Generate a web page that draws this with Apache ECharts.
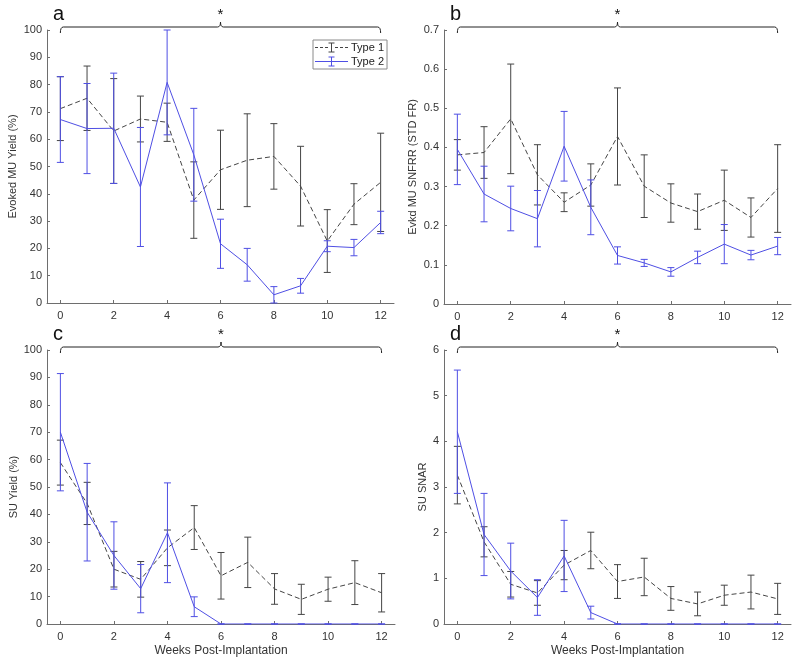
<!DOCTYPE html>
<html>
<head>
<meta charset="utf-8">
<script src="https://cdn.jsdelivr.net/npm/echarts@6.0.0/dist/echarts.min.js"></script>
<style>
html,body{margin:0;padding:0;background:#fff;}
#chart{width:800px;height:666px;}
</style>
</head>
<body>
<div id="chart"></div>
<script>
// ---------- data ----------
const weeks = [0, 1, 2, 3, 4, 5, 6, 7, 8, 9, 10, 11, 12];
const xTickLabels = [0, 2, 4, 6, 8, 10, 12];

// panel a: Evoked MU Yield (%)
const aType1 = [71.2, 75.0, 63.0, 67.4, 66.2, 37.7, 48.8, 52.3, 53.7, 42.8, 22.7, 36.2, 44.2];
const aType1Err = [11.7, 11.8, 19.2, 8.4, 7.0, 14.0, 14.5, 17.0, 12.0, 14.6, 11.5, 7.5, 18.0];
const aType2 = [67.2, 63.9, 64.0, 42.5, 80.8, 54.3, 21.7, 14.0, 3.0, 6.3, 20.8, 20.3, 29.5];
const aType2Err = [15.7, 16.5, 20.2, 21.8, 19.2, 17.0, 9.0, 6.0, 3.0, 2.7, 2.0, 3.0, 4.1];

// panel b: Evkd MU SNFRR (STD FR)
const bType1 = [0.381, 0.387, 0.473, 0.330, 0.260, 0.304, 0.428, 0.301, 0.258, 0.236, 0.265, 0.221, 0.295];
const bType1Err = [0.039, 0.066, 0.140, 0.077, 0.024, 0.054, 0.124, 0.080, 0.049, 0.045, 0.077, 0.050, 0.112];
const bType2 = [0.395, 0.281, 0.244, 0.218, 0.403, 0.247, 0.124, 0.105, 0.082, 0.119, 0.153, 0.125, 0.148];
const bType2Err = [0.090, 0.071, 0.057, 0.072, 0.089, 0.070, 0.022, 0.009, 0.011, 0.016, 0.050, 0.012, 0.022];

// panel c: SU Yield (%)
const cType1 = [58.9, 44.0, 20.0, 16.3, 27.8, 35.2, 17.6, 22.5, 12.8, 9.0, 12.7, 15.1, 11.4];
const cType1Err = [8.2, 7.7, 6.5, 6.5, 6.5, 8.0, 8.5, 9.2, 5.6, 5.5, 4.4, 8.0, 7.0];
const cType2 = [70.0, 40.8, 25.0, 12.9, 33.3, 6.3, 0, 0, 0, 0, 0, 0, 0];
const cType2Err = [21.4, 17.8, 12.3, 8.8, 18.2, 3.6, 0, 0, 0, 0, 0, 0, 0];

// panel d: SU SNAR
const dType1 = [3.26, 1.80, 0.87, 0.68, 1.29, 1.61, 0.93, 1.03, 0.56, 0.44, 0.63, 0.70, 0.55];
const dType1Err = [0.63, 0.33, 0.28, 0.27, 0.32, 0.40, 0.37, 0.41, 0.26, 0.26, 0.22, 0.37, 0.34];
const dType2 = [4.21, 1.96, 1.16, 0.58, 1.49, 0.25, 0, 0, 0, 0, 0, 0, 0];
const dType2Err = [1.35, 0.90, 0.61, 0.39, 0.78, 0.14, 0, 0, 0, 0, 0, 0, 0];

const panelLetters = ['a', 'b', 'c', 'd'];
const yNames = ['Evoked MU Yield (%)', 'Evkd MU SNFRR (STD FR)', 'SU Yield (%)', 'SU SNAR'];
const yMax = [100, 0.7, 100, 6];
const yInterval = [10, 0.1, 10, 1];
const xName = 'Weeks Post-Implantation';
const seriesNames = ['Type 1', 'Type 2'];

// ---------- style ----------
const FONT = 'Liberation Sans, Arial, sans-serif';
const C1 = '#454545';
const C2 = '#4f4fe4';
const AXIS = '#6e6e6e';
const LABEL = '#333333';

const grids = [
  {left: 47, top: 30, width: 347, height: 273},
  {left: 444, top: 30, width: 347, height: 274},
  {left: 47, top: 350, width: 348, height: 274},
  {left: 444, top: 350, width: 347, height: 274}
];
const yNameGap = [29, 25.5, 27.5, 15.5];

const panels = [
  [aType1, aType1Err, aType2, aType2Err],
  [bType1, bType1Err, bType2, bType2Err],
  [cType1, cType1Err, cType2, cType2Err],
  [dType1, dType1Err, dType2, dType2Err]
];

function errRender(params, api) {
  const x = api.value(0), lo = api.value(1), hi = api.value(2);
  const pLo = api.coord([x, lo]), pHi = api.coord([x, hi]);
  const color = api.visual('color');
  const hw = 3.5;
  const style = {stroke: color, lineWidth: 1, fill: null};
  return {type: 'group', children: [
    {type: 'line', shape: {x1: pHi[0], y1: pHi[1], x2: pLo[0], y2: pLo[1]}, style: style},
    {type: 'line', shape: {x1: pHi[0] - hw, y1: pHi[1], x2: pHi[0] + hw, y2: pHi[1]}, style: style},
    {type: 'line', shape: {x1: pLo[0] - hw, y1: pLo[1], x2: pLo[0] + hw, y2: pLo[1]}, style: style}
  ]};
}

function bracketRender(params, api) {
  const cs = params.coordSys;
  const x0 = api.coord([weeks[0], 0])[0];
  const xm = api.coord([weeks[6], 0])[0];
  const x1 = api.coord([weeks[12], 0])[0];
  const yl = cs.y - 3;
  const d = 'M' + x0 + ' ' + (yl + 6) + ' Q' + x0 + ' ' + yl + ' ' + (x0 + 3) + ' ' + yl +
            ' L' + (xm - 3) + ' ' + yl + ' Q' + xm + ' ' + yl + ' ' + xm + ' ' + (yl - 5) +
            ' Q' + xm + ' ' + yl + ' ' + (xm + 3) + ' ' + yl +
            ' L' + (x1 - 3) + ' ' + yl + ' Q' + x1 + ' ' + yl + ' ' + x1 + ' ' + (yl + 6);
  return {type: 'group', children: [
    {type: 'path', shape: {pathData: d}, style: {stroke: '#222', lineWidth: 1, fill: null}},
    {type: 'text', x: xm, y: yl - 12, style: {text: '*', fontSize: 15, fontFamily: FONT, fill: '#111', align: 'center', verticalAlign: 'middle'}}
  ]};
}

const xAxes = [], yAxes = [], series = [], graphics = [];
grids.forEach(function (g, i) {
  xAxes.push({
    type: 'value', gridIndex: i, min: -0.5, max: 12.5,
    name: i >= 2 ? xName : '', nameLocation: 'middle', nameGap: 21,
    nameTextStyle: {fontSize: 12, fontFamily: FONT, color: LABEL},
    axisLine: {onZero: false, lineStyle: {color: AXIS, width: 1}},
    axisTick: {show: true, inside: true, length: 3, customValues: xTickLabels, lineStyle: {color: AXIS}},
    axisLabel: {customValues: xTickLabels, fontSize: 11, fontFamily: FONT, color: LABEL, margin: 7},
    splitLine: {show: false}
  });
  yAxes.push({
    type: 'value', gridIndex: i, min: 0, max: yMax[i], interval: yInterval[i],
    name: yNames[i], nameLocation: 'middle', nameGap: yNameGap[i],
    nameTextStyle: {fontSize: 11, fontFamily: FONT, color: LABEL},
    axisLine: {show: true, onZero: false, lineStyle: {color: AXIS, width: 1}},
    axisTick: {show: true, inside: true, length: 3, lineStyle: {color: AXIS}},
    axisLabel: {fontSize: 11, fontFamily: FONT, color: LABEL, margin: 5},
    splitLine: {show: false}
  });
  const p = panels[i];
  const t1 = weeks.map(function (w, k) { return [w, p[0][k]]; });
  const t2 = weeks.map(function (w, k) { return [w, p[2][k]]; });
  const e1 = weeks.map(function (w, k) { return [w, p[0][k] - p[1][k], p[0][k] + p[1][k]]; });
  const e2 = weeks.map(function (w, k) { return [w, p[2][k] - p[3][k], p[2][k] + p[3][k]]; });
  series.push({
    name: seriesNames[0], type: 'line', xAxisIndex: i, yAxisIndex: i, data: t1,
    symbol: 'none', showSymbol: false, silent: true, z: 3,
    itemStyle: {color: C1}, lineStyle: {color: C1, width: 1, type: [5, 3]}
  });
  series.push({
    name: seriesNames[1], type: 'line', xAxisIndex: i, yAxisIndex: i, data: t2,
    symbol: 'none', showSymbol: false, silent: true, z: 4,
    itemStyle: {color: C2}, lineStyle: {color: C2, width: 1}
  });
  series.push({
    name: seriesNames[0], type: 'custom', xAxisIndex: i, yAxisIndex: i, data: e1,
    encode: {x: 0, y: [1, 2]}, renderItem: errRender, silent: true, z: 3,
    itemStyle: {color: C1}
  });
  series.push({
    name: seriesNames[1], type: 'custom', xAxisIndex: i, yAxisIndex: i, data: e2,
    encode: {x: 0, y: [1, 2]}, renderItem: errRender, silent: true, z: 4,
    itemStyle: {color: C2}
  });
  series.push({
    name: 'bracket', type: 'custom', xAxisIndex: i, yAxisIndex: i, data: [[weeks[6], 0]],
    renderItem: bracketRender, silent: true, z: 5, clip: false
  });
  graphics.push({
    type: 'text', left: g.left + 6, top: g.top - 26,
    style: {text: panelLetters[i], fontSize: 20, fontFamily: FONT, fill: '#111'}
  });
});

const icon1 = 'path://M0 4.5h3v1h-3z M5 4.5h3v1h-3z M10 4.5h3v1h-3z M16 0h1v10h-1z M13.5 0h6v1h-6z M13.5 9h6v1h-6z M20 4.5h3v1h-3z M25 4.5h3v1h-3z M30 4.5h3v1h-3z';
const icon2 = 'path://M0 4.5h33v1h-33z M16 0h1v10h-1z M13.5 0h6v1h-6z M13.5 9h6v1h-6z';

const option = {
  animation: false,
  backgroundColor: '#ffffff',
  grid: grids.map(function (g) { return Object.assign({containLabel: false}, g); }),
  xAxis: xAxes,
  yAxis: yAxes,
  legend: {
    data: [{name: seriesNames[0], icon: icon1}, {name: seriesNames[1], icon: icon2}],
    orient: 'vertical', left: 313, top: 40,
    itemWidth: 33, itemHeight: 10, itemGap: 3,
    padding: [2, 3, 2, 2],
    backgroundColor: '#ffffff', borderColor: '#8a8a8a', borderWidth: 1, borderRadius: 0,
    itemStyle: {borderWidth: 0},
    textStyle: {fontSize: 11, fontFamily: FONT, color: '#222', padding: [0, 0, 0, -2]},
    selectedMode: false
  },
  graphic: graphics,
  series: series
};

const chart = echarts.init(document.getElementById('chart'), null, {renderer: 'canvas'});
chart.setOption(option);
</script>
</body>
</html>
